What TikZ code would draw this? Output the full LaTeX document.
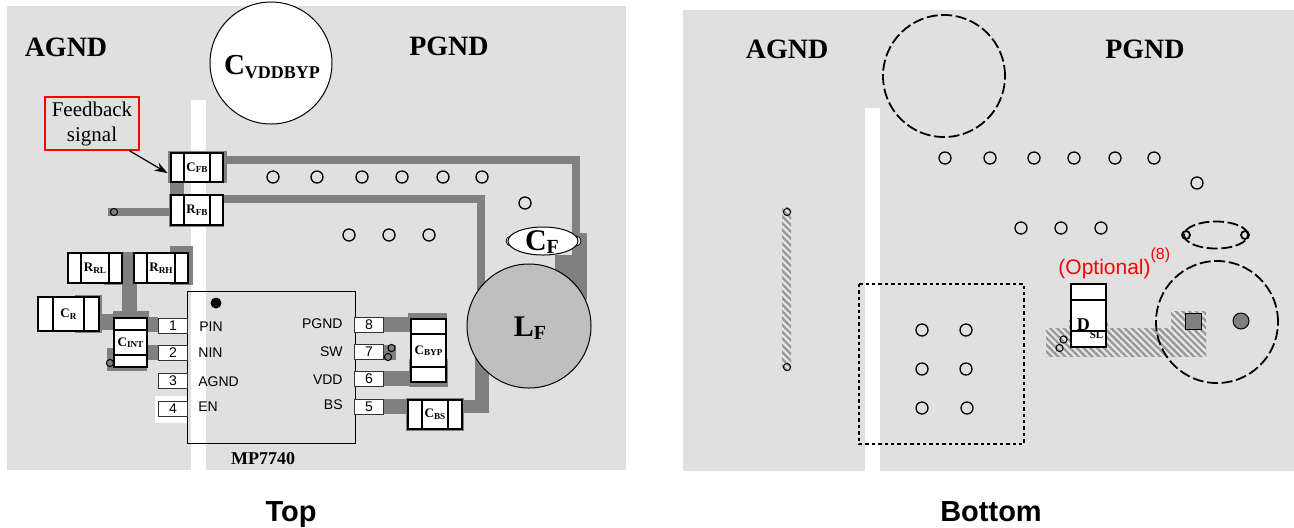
\documentclass[tikz,border=0pt]{standalone}
\usepackage{fontspec}
\setmainfont{Liberation Serif}
\newfontfamily\pinfont{Liberation Sans}
\usetikzlibrary{shapes.geometric,patterns.meta,arrows.meta}

\definecolor{boardgray}{HTML}{E0E0E0}
\definecolor{tracegray}{HTML}{808080}
\definecolor{coilgray}{HTML}{BFBFBF}
\definecolor{hatchgray}{HTML}{999999}
\definecolor{hatchback}{HTML}{E8E8E8}

% part name with its index, sizes in pt
\newcommand{\partlbl}[4]{{\fontsize{#3}{#3}\selectfont\bfseries #1\raisebox{-0.12em}{\fontsize{#4}{#4}\selectfont #2}}}

\tikzset{
  board/.style={fill=boardgray},
  gap/.style={fill=white},
  trace/.style={fill=tracegray},
  hatched/.style={preaction={fill=hatchback}, pattern={Lines[angle=-45,distance=2.4pt,line width=1.2pt]}, pattern color=hatchgray},
  via/.style={circle, draw, line width=0.65pt, minimum size=6pt, inner sep=0pt},
  tinyvia/.style={circle, draw, line width=0.5pt, minimum size=3.6pt, inner sep=0pt},
  outline/.style={draw, line width=0.9pt, dash pattern=on 5.5pt off 1.8pt, inner sep=0pt},
  plainlbl/.style={inner sep=0pt},
  pin/.style={draw=black!80, fill=white, line width=0.4pt, minimum width=14.5pt, minimum height=7.5pt, inner sep=0pt, font=\pinfont\fontsize{7}{7}\selectfont},
  pintext/.style={inner sep=0pt, font=\pinfont\fontsize{7}{7}\selectfont},
  title/.style={inner sep=0pt, font=\fontsize{14}{14}\selectfont\bfseries},
  caption/.style={inner sep=0pt, anchor=base, font=\pinfont\fontsize{14.5}{14.5}\selectfont\bfseries},
  chiph/.style n args={3}{draw, fill=white, line width=0.8pt, inner sep=0pt,
    minimum width=#1*0.5pt, minimum height=#2*0.5pt,
    path picture={
      \draw[line width=0.8pt] ([xshift=#3*0.5pt]path picture bounding box.north west) -- ([xshift=#3*0.5pt]path picture bounding box.south west);
      \draw[line width=0.8pt] ([xshift=-#3*0.5pt]path picture bounding box.north east) -- ([xshift=-#3*0.5pt]path picture bounding box.south east);
    }},
  chipv/.style n args={3}{draw, fill=white, line width=0.8pt, inner sep=0pt,
    minimum width=#1*0.5pt, minimum height=#2*0.5pt,
    path picture={
      \draw[line width=0.8pt] ([yshift=-#3*0.5pt]path picture bounding box.north west) -- ([yshift=-#3*0.5pt]path picture bounding box.north east);
      \draw[line width=0.8pt] ([yshift=#3*0.5pt]path picture bounding box.south west) -- ([yshift=#3*0.5pt]path picture bounding box.south east);
    }},
}

\begin{document}
\begin{tikzpicture}[x=0.5pt, y=-0.5pt, >={Stealth[length=6.5pt,width=4.5pt]}]
  \useasboundingbox (0,0) rectangle (1294,527);

  % Boards
  \path[board] (7,6) rectangle (626,470);
  \path[board] (683,10) rectangle (1294,471);
  \path[gap] (191,100) rectangle (206,470);
  \path[gap] (865,108) rectangle (880,471);
  \path[gap] (155,396) rectangle (188,423);

  % Top traces
  \path[trace] (168,151) rectangle (227,183);
  \path[trace] (223,156) rectangle (580,164);
  \path[trace] (572,156) rectangle (580,240);
  \path[trace] (555,255) rectangle (587,300);
  \path[trace] (572,233) rectangle (587,300);
  \path[trace] (170,183) rectangle (184,195);
  \path[trace] (169,194) rectangle (224,227);
  \path[trace] (223,195) rectangle (485,203);
  \path[trace] (477,195) rectangle (485,290);
  \path[trace] (108,208) rectangle (171,216);
  \path[trace] (104,252) rectangle (137,285);
  \path[trace] (122,252) rectangle (137,318);
  \path[trace] (170,246) rectangle (193,285);
  \path[trace] (75,295) rectangle (102,333);
  \path[trace] (99,314) rectangle (114,330);
  \path[trace] (113,311) rectangle (149,325);
  \path[trace] (107,348) rectangle (147,371);
  \path[trace] (147,317) rectangle (158,332);
  \path[trace] (147,345) rectangle (158,360);
  \path[trace] (383,317) rectangle (411,332);
  \path[trace] (408,313) rectangle (447,325);
  \path[trace] (383,345) rectangle (396,360);
  \path[trace] (383,371) rectangle (411,386);
  \path[trace] (409,359) rectangle (448,387);
  \path[trace] (383,399) rectangle (408,414);
  \path[trace] (406,398) rectangle (464,431);
  \path[trace] (462,400) rectangle (489,413);
  \path[trace] (475,357) rectangle (489,413);

  % Bottom traces
  \path[hatched] (782,207) rectangle (791,370);
  \path[hatched] (1069,320) rectangle (1108,330);
  \path[hatched] (1046,328) rectangle (1206,356);
  \path[hatched] (1171,311) rectangle (1206,328);

  % Big parts, top
  \node[circle, draw, fill=white, line width=0.5pt, minimum size=61pt, inner sep=0pt] (cvdd) at (271,63) {};
  \node[plainlbl] (cvddname) at (272,67) {\partlbl{C}{VDDBYP}{14.5}{9}};
  \node[circle, draw, fill=coilgray, line width=0.5pt, minimum size=62pt, inner sep=0pt] (lf) at (529,326) {};
  \node[plainlbl] (lfname) at (530,328) {\partlbl{L}{F}{15}{10}};
  \node[circle, draw, fill=white, line width=0.4pt, minimum size=5pt, inner sep=0pt] (cfa) at (511,241) {};
  \node[circle, draw, fill=white, line width=0.4pt, minimum size=5pt, inner sep=0pt] (cfb) at (576,241) {};
  \node[ellipse, draw, fill=white, line width=0.5pt, minimum width=35pt, minimum height=14pt, inner sep=0pt] (cf) at (543,241) {};
  \node[plainlbl] (cfname) at (542,242) {\partlbl{C}{F}{15}{10}};

  % Small parts, top
  \node[chiph={52}{29}{13}] (c_fb) at (197,167.5) {\partlbl{C}{FB}{6.5}{4.6}};
  \node[chiph={52}{30}{13}] (r_fb) at (197,210) {\partlbl{R}{FB}{6.5}{4.6}};
  \node[chiph={54}{30}{13}] (r_rl) at (95,268) {\partlbl{R}{RL}{6.5}{4.6}};
  \node[chiph={54}{30}{13}] (r_rh) at (161,268) {\partlbl{R}{RH}{6.5}{4.6}};
  \node[chiph={61}{34}{15}] (c_r) at (68.5,314) {\partlbl{C}{R}{6.5}{4.6}};
  \node[chipv={33}{49}{12}] (c_int) at (130.5,342.5) {\partlbl{C}{INT}{6.5}{4.6}};
  \node[chipv={35}{63}{15}] (c_byp) at (428.5,350.5) {\partlbl{C}{BYP}{6.5}{4.6}};
  \node[chiph={54}{29}{14}] (c_bs) at (435,414.5) {\partlbl{C}{BS}{6.5}{4.6}};

  % Chip
  \draw[line width=0.5pt] (187,291) rectangle (355,443);
  \node[circle, fill=black, minimum size=5.5pt, inner sep=0pt] (dot) at (216,303) {};
  \node[pin] (p1) at (173,325.5) {1};
  \node[pin] (p2) at (173,353) {2};
  \node[pin] (p3) at (173,380.5) {3};
  \node[pin] (p4) at (173,408.5) {4};
  \node[pin] (p8) at (369,324.5) {8};
  \node[pin] (p7) at (369,352) {7};
  \node[pin] (p6) at (369,378.5) {6};
  \node[pin] (p5) at (369,406.5) {5};
  \node[pintext, anchor=west] (pin) at (199,327) {PIN};
  \node[pintext, anchor=west] (nin) at (198,353) {NIN};
  \node[pintext, anchor=west] (agnd) at (198,382) {AGND};
  \node[pintext, anchor=west] (en) at (198,407) {EN};
  \node[pintext, anchor=east] (pgnd) at (343,324) {PGND};
  \node[pintext, anchor=east] (sw) at (343,352) {SW};
  \node[pintext, anchor=east] (vdd) at (343,380) {VDD};
  \node[pintext, anchor=east] (bs) at (343,405) {BS};
  \node[inner sep=0pt, font=\fontsize{9}{9}\selectfont\bfseries] (ic) at (263,459) {MP7740};

  % Vias
  \foreach \x in {273,317,362,402,443,482}
    \node[via] (ta\x) at (\x,177) {};
  \node[via] (tb) at (525,203) {};
  \foreach \x in {349,389,429}
    \node[via] (tc\x) at (\x,235) {};
  \foreach \x in {945,990,1034,1074,1115,1154}
    \node[via] (ba\x) at (\x,158) {};
  \node[via] (bb) at (1197,183) {};
  \foreach \x in {1021,1061,1101}
    \node[via] (bc\x) at (\x,228) {};
  \foreach \x/\y in {922/330,966/330,922/369,966/369,922/408,967/408}
    \node[via] (bd\x\y) at (\x,\y) {};
  \node[tinyvia] (va) at (114,212) {};
  \node[tinyvia] (vb) at (110,363) {};
  \node[tinyvia] (vc) at (391.5,348) {};
  \node[tinyvia] (vd) at (388,357) {};
  \node[tinyvia] (ve) at (787,212) {};
  \node[tinyvia] (vf) at (787,367) {};

  % Outlines, bottom
  \node[circle, outline, minimum size=61pt] (cvddb) at (944,76) {};
  \node[circle, outline, minimum size=61pt] (lfb) at (1217,322) {};
  \node[ellipse, outline, minimum width=32pt, minimum height=13.5pt] (cfc) at (1216,235) {};
  \node[circle, draw, line width=0.9pt, minimum size=4pt, inner sep=0pt] (cfd) at (1186,235) {};
  \node[circle, draw, line width=0.9pt, minimum size=4pt, inner sep=0pt] (cfe) at (1245,235) {};
  \draw[dash pattern=on 1.7pt off 1.5pt, line width=1pt] (859,284) rectangle (1024,444);
  \node[rectangle, draw, fill=tracegray, line width=0.5pt, minimum size=8pt, inner sep=0pt] (pad) at (1193,321) {};
  \node[circle, draw, fill=tracegray, line width=0.5pt, minimum size=8pt, inner sep=0pt] (hole) at (1241,321) {};
  \node[chipv={35}{63}{16}] (d_sl) at (1088.5,315.5) {};
  \node[plainlbl, font=\fontsize{9}{9}\selectfont\bfseries] (dsl) at (1090,329) {D\raisebox{-0.45em}{\fontsize{5.5}{5.5}\selectfont SL}};
  \node[tinyvia] (vg) at (1063.5,339.5) {};
  \node[tinyvia] (vh) at (1059.5,348) {};

  % Labels
  \node[title] (agndt) at (66,47) {AGND};
  \node[title] (pgndt) at (449,46) {PGND};
  \node[title] (agndb) at (787,49) {AGND};
  \node[title] (pgndb) at (1145,49) {PGND};
  \node[draw=red, line width=0.7pt, minimum width=47pt, minimum height=26.5pt, inner sep=0pt, align=center, font=\fontsize{10.5}{12.5}\selectfont] (feedback) at (92,123.5) {Feedback\\signal};
  \draw[->, line width=0.6pt, shorten >=1.5pt] (feedback.-36) -- (c_fb.-165);
  \node[anchor=west, inner sep=0pt, text=red, font=\pinfont\fontsize{10.5}{10.5}\selectfont] (optional) at (1058,263.5) {(Optional)\raisebox{0.7em}{\fontsize{8}{8}\selectfont(8)}};
  \node[caption] (top) at (291,521) {Top};
  \node[caption] (bottom) at (991,521) {Bottom};
\end{tikzpicture}
\end{document}
